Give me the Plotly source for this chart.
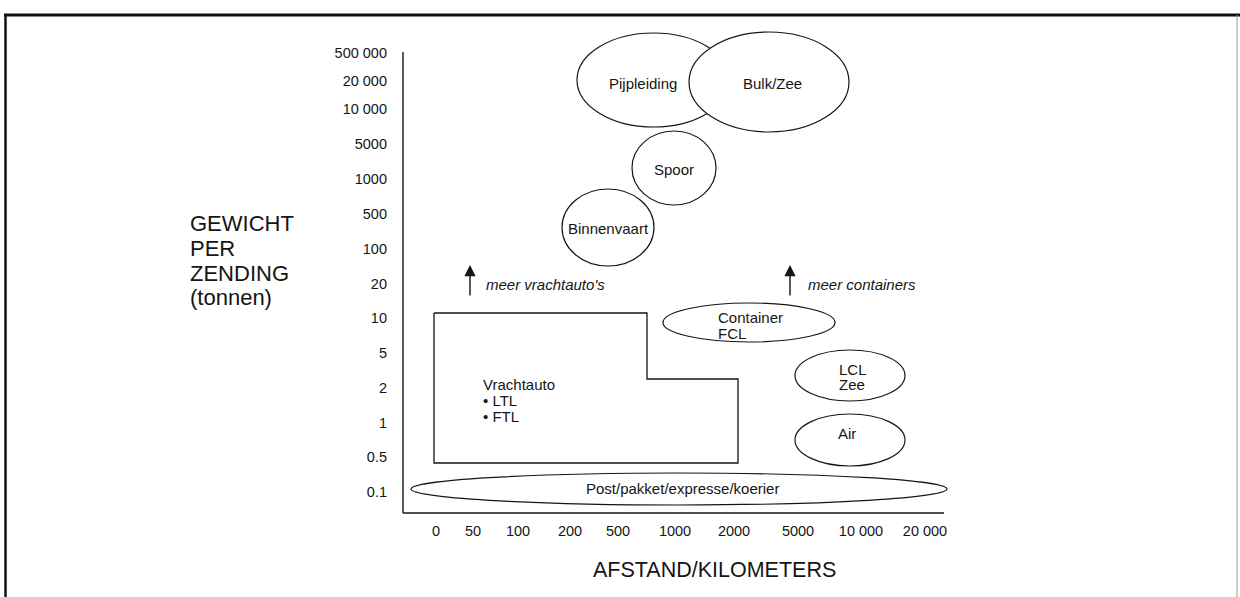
import plotly.graph_objects as go

W, H = 1240, 597

# ---- axis ticks (categories as printed on the chart) ----
x_labels = ["0", "50", "100", "200", "500", "1000", "2000", "5000", "10 000", "20 000"]
x_tick_pos = [33, 70, 115, 167, 215, 272, 331, 395, 458, 522]
y_labels = ["0.1", "0.5", "1", "2", "5", "10", "20", "100", "500", "1000",
            "5000", "10 000", "20 000", "500 000"]
y_tick_pos = [21, 56, 90, 125, 160, 195, 229, 264, 299, 334, 369, 404, 432, 460]

# ---- transport-mode regions (ellipses) in chart units ----
oval_names = ["Pijpleiding", "Bulk/Zee", "Spoor", "Binnenvaart", "Container FCL",
              "LCL Zee", "Air", "Post/pakket/expresse/koerier"]
oval_x0 = [174, 286, 229, 159, 260, 392, 392, 8]
oval_x1 = [327, 446, 313, 251, 432, 502, 502, 544]
oval_y0 = [386, 381, 308, 247, 171, 112, 47, 8]
oval_y1 = [480, 481, 382, 324, 210, 163, 99, 40]

# ---- truck (Vrachtauto) region outline ----
truck_x = [31, 244, 244, 335, 335, 31, 31]
truck_y = [200, 200, 134, 134, 50, 50, 200]

# ---- labels inside the chart ----
label_text = ["Pijpleiding", "Bulk/Zee", "Spoor", "Binnenvaart", "Container", "FCL",
              "LCL", "Zee", "Air", "Post/pakket/expresse/koerier",
              "Vrachtauto", "• LTL", "• FTL"]
label_x = [240, 369, 271, 205, 313, 313, 434, 434, 444, 279, 78, 78, 78]
label_y = [430, 430, 344, 285, 196, 180, 144, 129, 80, 25, 129, 113, 97]
label_anchor = ["center", "center", "center", "center", "left", "left", "left", "left",
                "center", "center", "left", "left", "left"]

# ---- "more" arrows ----
arrow_text = ["meer vrachtauto's", "meer containers"]
arrow_x = [67, 387]
arrow_y0 = [216, 216]
arrow_y1 = [248, 248]
arrow_text_x = [81, 403]
arrow_text_y = [229, 229]

FONT = "Liberation Sans, Arial, Helvetica, sans-serif"
INK = "#151515"

fig = go.Figure()

# truck outline
fig.add_trace(go.Scatter(x=truck_x, y=truck_y, mode="lines",
                         line=dict(color=INK, width=1.3), hoverinfo="skip",
                         showlegend=False))

shapes = []
# axis lines
shapes.append(dict(type="line", xref="x", yref="y", x0=0, x1=0, y0=0, y1=461,
                   line=dict(color=INK, width=1.4)))
shapes.append(dict(type="line", xref="x", yref="y", x0=0, x1=541, y0=0, y1=0,
                   line=dict(color=INK, width=1.4)))
# ellipses
for i, n in enumerate(oval_names):
    shapes.append(dict(type="circle", xref="x", yref="y",
                       x0=oval_x0[i], x1=oval_x1[i], y0=oval_y0[i], y1=oval_y1[i],
                       line=dict(color=INK, width=1.2),
                       fillcolor="white" if n == "Bulk/Zee" else "rgba(0,0,0,0)",
                       layer="above"))
# outer frame of the figure
shapes.append(dict(type="line", xref="paper", yref="paper", x0=4/W, x1=1240/W,
                   y0=1-15/H, y1=1-15/H, line=dict(color="#111", width=3)))
shapes.append(dict(type="line", xref="paper", yref="paper", x0=5.5/W, x1=5.5/W,
                   y0=0, y1=1-15/H, line=dict(color="#111", width=2.5)))
shapes.append(dict(type="line", xref="paper", yref="paper", x0=1237/W, x1=1237/W,
                   y0=0, y1=1-15/H, line=dict(color="#999", width=1)))

annotations = []
for t, x, y, a in zip(label_text, label_x, label_y, label_anchor):
    annotations.append(dict(x=x, y=y, xref="x", yref="y", text=t, showarrow=False,
                            xanchor=a, yanchor="middle",
                            font=dict(family=FONT, size=15, color=INK)))
for i in range(2):
    annotations.append(dict(x=arrow_x[i], y=arrow_y1[i], ax=arrow_x[i], ay=arrow_y0[i],
                            xref="x", yref="y", axref="x", ayref="y", text="",
                            showarrow=True, arrowhead=2, arrowsize=1.6, arrowwidth=1.4,
                            arrowcolor=INK))
    annotations.append(dict(x=arrow_text_x[i], y=arrow_text_y[i], xref="x", yref="y",
                            text="<i>" + arrow_text[i] + "</i>", showarrow=False,
                            xanchor="left", yanchor="middle",
                            font=dict(family=FONT, size=15, color=INK)))

# axis titles
for t, py in zip(["GEWICHT", "PER", "ZENDING", "(tonnen)"], [224, 249, 273, 297]):
    annotations.append(dict(x=188/W, y=1-py/H, xref="paper", yref="paper", text=t,
                            showarrow=False, xanchor="left", yanchor="middle",
                            font=dict(family=FONT, size=22, color=INK)))
annotations.append(dict(x=714/W, y=1-570/H, xref="paper", yref="paper",
                        text="AFSTAND/KILOMETERS", showarrow=False,
                        xanchor="center", yanchor="middle",
                        font=dict(family=FONT, size=21.5, color=INK)))

fig.update_layout(
    width=W, height=H,
    margin=dict(l=0, r=0, t=0, b=0),
    paper_bgcolor="white", plot_bgcolor="white",
    showlegend=False,
    shapes=shapes, annotations=annotations,
    xaxis=dict(domain=[400/W, 960/W], range=[-3, 557], showgrid=False, zeroline=False,
               showline=False, ticks="", tickmode="array", tickvals=x_tick_pos,
               ticktext=x_labels, ticklabelstandoff=4,
               tickfont=dict(family=FONT, size=14.5, color=INK), fixedrange=True),
    yaxis=dict(domain=[1-516/H, 1-25/H], range=[-3, 488], showgrid=False, zeroline=False,
               showline=False, ticks="", tickmode="array", tickvals=y_tick_pos,
               ticktext=y_labels, ticklabelstandoff=12,
               tickfont=dict(family=FONT, size=14.5, color=INK), fixedrange=True),
)

fig.write_html("out.html", config={"displayModeBar": False},
               post_script="document.body.style.margin='0px';")
